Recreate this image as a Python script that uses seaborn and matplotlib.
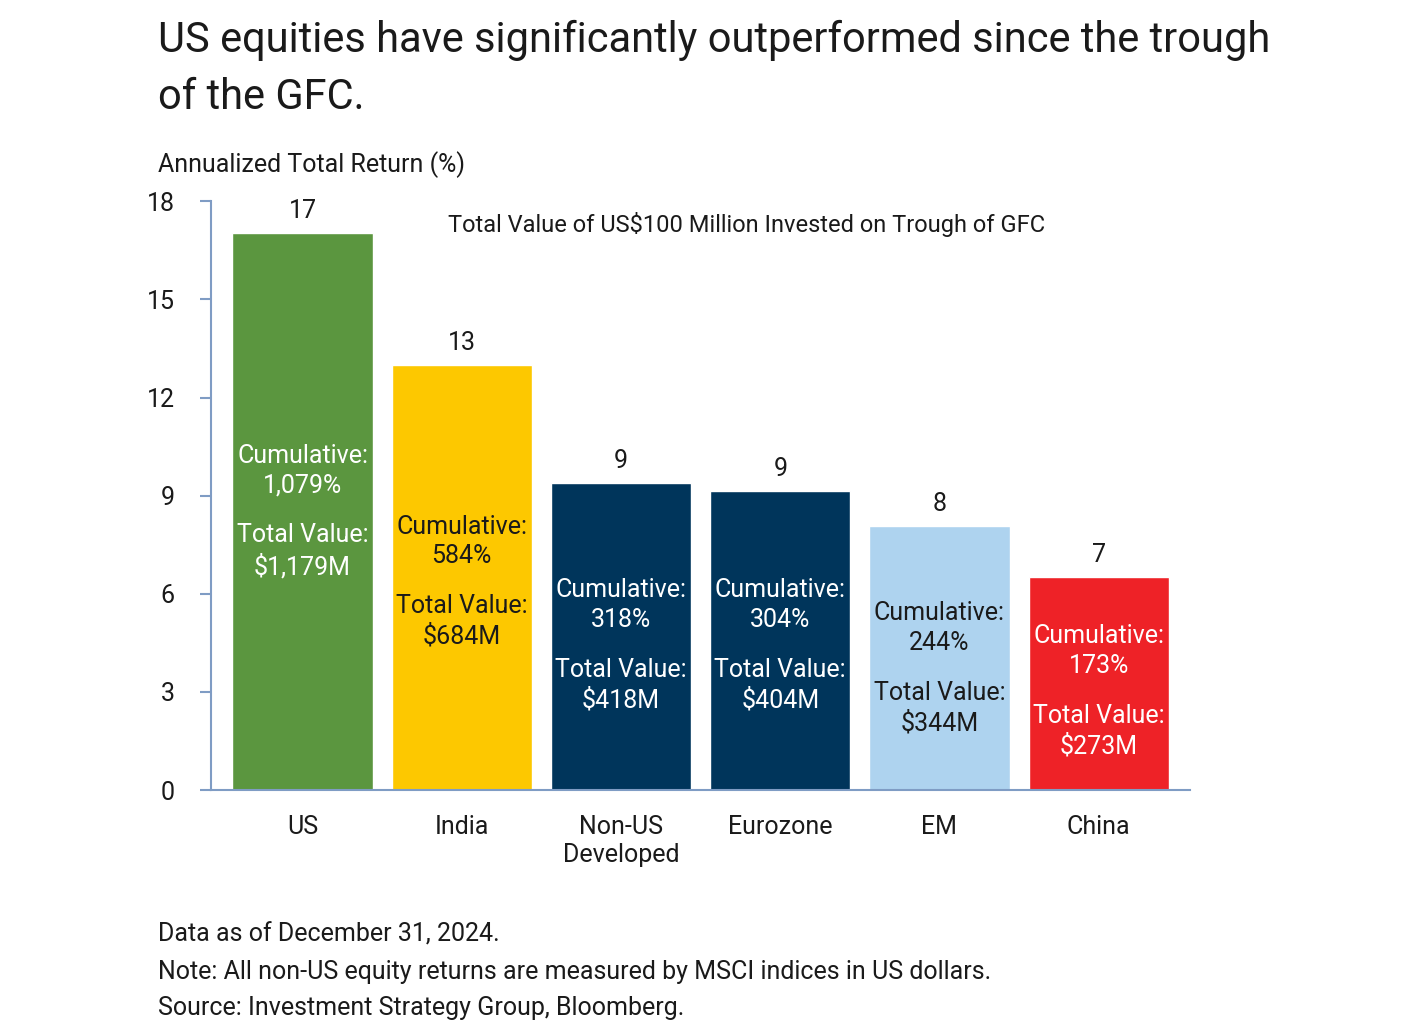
import matplotlib
matplotlib.use('Agg')
import matplotlib.pyplot as plt
import seaborn as sns
import pandas as pd

# ── Data ───────────────────────────────────────────────────────────────
regions = ['US', 'India', 'Non-US\nDeveloped', 'Eurozone', 'EM', 'China']
annual_return = [17.03, 13.0, 9.39, 9.14, 8.07, 6.51]
top_labels = ['17', '13', '9', '9', '8', '7']
cumulative = ['1,079%', '584%', '318%', '304%', '244%', '173%']
total_value = ['$1,179M', '$684M', '$418M', '$404M', '$344M', '$273M']
colors = ['#5b963f', '#fdc800', '#00355b', '#00355b', '#aed3ef', '#ee2227']
text_colors = ['white', '#1a1a1a', 'white', 'white', '#1a1a1a', 'white']
# vertical placement of the inner text blocks (axis units)
cum_y = [9.75, 7.6, 5.66, 5.66, 4.95, 4.25]
tot_y = [7.3, 5.17, 3.2, 3.2, 2.5, 1.8]

df = pd.DataFrame({'region': regions, 'ret': annual_return})

sns.set_theme(style='white')
plt.rcParams['font.family'] = ['Liberation Sans Narrow', 'Roboto', 'DejaVu Sans']
txt = '#1a1a1a'
spine_c = '#7f9cc4'

fig = plt.figure(figsize=(14.01, 10.22), dpi=100)
ax = fig.add_axes([0.1506, 0.227, 0.699, 0.576])

sns.barplot(data=df, x='region', y='ret', hue='region', palette=colors,
            width=0.88, saturation=1, legend=False, ax=ax)

for i, v in enumerate(annual_return):
    ax.text(i, v + 0.3, top_labels[i], ha='center', va='bottom', fontsize=18, color=txt)
    ax.text(i, cum_y[i], f'Cumulative:\n{cumulative[i]}', ha='center', va='center',
            fontsize=18, color=text_colors[i], linespacing=1.3)
    ax.text(i, tot_y[i], f'Total Value:\n{total_value[i]}', ha='center', va='center',
            fontsize=18, color=text_colors[i], linespacing=1.3)

ax.text(0.915, 17.28, 'Total Value of US$100 Million Invested on Trough of GFC',
        ha='left', va='center', fontsize=17, color=txt)

ax.set_xlim(-0.575, 5.575)
ax.set_ylim(0, 18)
ax.set_yticks(range(0, 19, 3))
ax.set_xlabel('')
ax.set_ylabel('')
for s in ['top', 'right']:
    ax.spines[s].set_visible(False)
for s in ['left', 'bottom']:
    ax.spines[s].set_color(spine_c)
    ax.spines[s].set_linewidth(1.5)
ax.tick_params(axis='y', length=8, width=1.5, color=spine_c, labelsize=18,
               labelcolor=txt, pad=18, left=True)
ax.tick_params(axis='x', length=0, labelsize=18, labelcolor=txt, pad=18)

fig.text(0.113, 0.96, 'US equities have significantly outperformed since the trough',
         fontsize=30, color=txt, va='center')
fig.text(0.113, 0.905, 'of the GFC.', fontsize=30, color=txt, va='center')
fig.text(0.113, 0.839, 'Annualized Total Return (%)', fontsize=18, color=txt, va='center')
fig.text(0.113, 0.086, 'Data as of December 31, 2024.', fontsize=18, color=txt, va='center')
fig.text(0.113, 0.049, 'Note: All non-US equity returns are measured by MSCI indices in US dollars.',
         fontsize=18, color=txt, va='center')
fig.text(0.113, 0.014, 'Source: Investment Strategy Group, Bloomberg.',
         fontsize=18, color=txt, va='center')

fig.savefig('out.png', dpi=100)
